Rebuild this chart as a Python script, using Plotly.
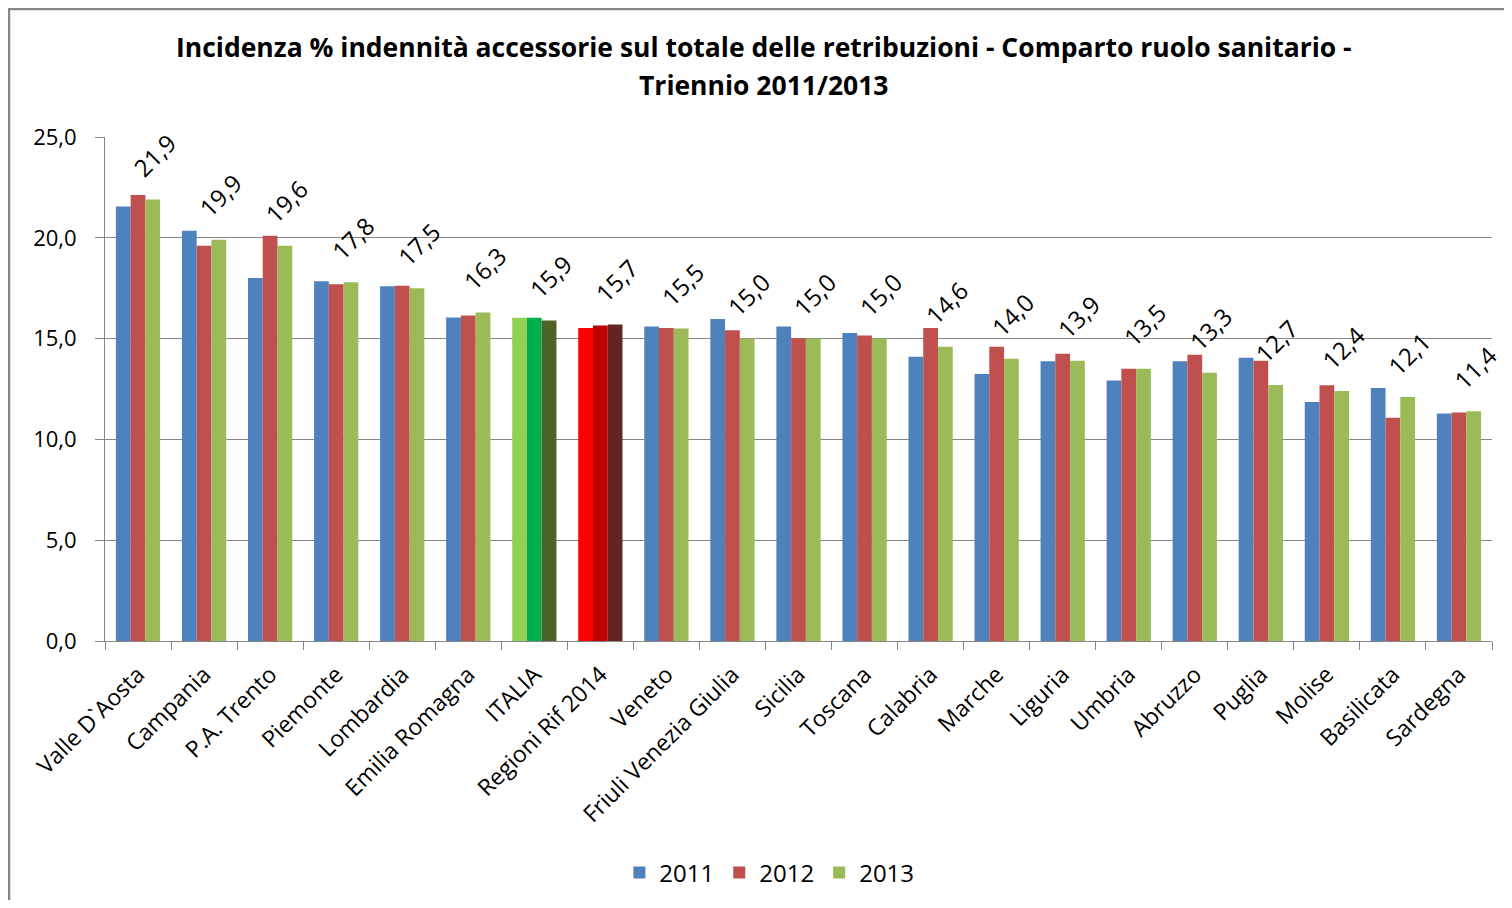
import plotly.graph_objects as go

categories = ["Valle D`Aosta", "Campania", "P.A. Trento", "Piemonte", "Lombardia",
              "Emilia Romagna", "ITALIA", "Regioni Rif 2014", "Veneto",
              "Friuli Venezia Giulia", "Sicilia", "Toscana", "Calabria", "Marche",
              "Liguria", "Umbria", "Abruzzo", "Puglia", "Molise", "Basilicata", "Sardegna"]

v2011 = [21.55, 20.35, 18.0, 17.85, 17.6, 16.05, 16.03, 15.53, 15.6, 15.97, 15.6, 15.28,
         14.1, 13.25, 13.88, 12.92, 13.88, 14.05, 11.85, 12.55, 11.28]
v2012 = [22.12, 19.6, 20.1, 17.7, 17.62, 16.15, 16.03, 15.65, 15.53, 15.42, 15.02, 15.15,
         15.53, 14.6, 14.25, 13.5, 14.2, 13.9, 12.68, 11.08, 11.33]
v2013 = [21.9, 19.9, 19.6, 17.8, 17.5, 16.3, 15.9, 15.7, 15.5, 15.0, 15.0, 15.0,
         14.6, 14.0, 13.9, 13.5, 13.3, 12.7, 12.4, 12.1, 11.4]

series_names = ["2011", "2012", "2013"]
base_colors = ["#4F81BD", "#C0504D", "#9BBB59"]
italia_colors = ["#92D050", "#00B050", "#4F6228"]
rif_colors = ["#FF0000", "#C00000", "#632523"]
y_ticks = [0, 5, 10, 15, 20, 25]
title_lines = ["Incidenza % indennità accessorie sul totale delle retribuzioni - Comparto ruolo sanitario -",
               "Triennio 2011/2013"]

FONT = "Open Sans"

def fmt(v):
    return f"{v:.1f}".replace(".", ",")

fig = go.Figure()
for i, (name, vals) in enumerate(zip(series_names, [v2011, v2012, v2013])):
    cols = []
    for c in categories:
        if c == "ITALIA":
            cols.append(italia_colors[i])
        elif c == "Regioni Rif 2014":
            cols.append(rif_colors[i])
        else:
            cols.append(base_colors[i])
    fig.add_trace(go.Bar(x=categories, y=vals, name=name,
                         marker=dict(color=cols, line=dict(width=0))))

# page body has an 8px margin: figure fits inside the viewport (1512-16 x 908-16),
# and all positions are shifted by 8px
PL, PR, PT, PB = 97, 1484, 129, 633
W, H = 1496, 892

annotations = []
for c, v in zip(categories, v2013):
    annotations.append(dict(x=c, y=v, xref="x", yref="y", text=fmt(v),
                            showarrow=False, textangle=-45, xshift=16, yshift=44,
                            font=dict(family=FONT, size=24, color="#000000")))

for line, ypix in zip(title_lines, [47 - 8, 85 - 8]):
    annotations.append(dict(x=(764 - 8 - PL) / (PR - PL), y=(PB - ypix) / (PB - PT),
                            xref="paper", yref="paper", xanchor="center", yanchor="middle",
                            text=f"<b>{line}</b>", showarrow=False,
                            font=dict(family=FONT, size=26.5, color="#000000")))

fig.update_layout(
    width=W, height=H, autosize=False,
    margin=dict(l=PL, r=W - PR, t=PT, b=H - PB, autoexpand=False),
    paper_bgcolor="white", plot_bgcolor="white",
    barmode="group", bargap=0.33, bargroupgap=0,
    font=dict(family=FONT, size=21, color="#000000"),
    legend=dict(orientation="h", x=0.479, xanchor="center",
                y=-(873 - 8 - PB) / (PB - PT), yanchor="middle",
                font=dict(family=FONT, size=24), itemwidth=30, traceorder="normal"),
    annotations=annotations,
    shapes=[dict(type="rect", xref="paper", yref="paper",
                 x0=(1 - PL) / (PR - PL), x1=1.2, y0=-1.0, y1=(PB - 1) / (PB - PT),
                 line=dict(color="#868686", width=2.5), fillcolor="rgba(0,0,0,0)",
                 layer="above")],
)

fig.update_yaxes(range=[0, 25], tickvals=y_ticks,
                 ticktext=[fmt(t) for t in y_ticks],
                 showgrid=True, gridcolor="#868686", gridwidth=1,
                 showline=True, linecolor="#868686", linewidth=1,
                 ticks="outside", ticklen=9, tickcolor="#868686", ticklabelstandoff=14,
                 tickfont=dict(family=FONT, size=22), zeroline=False, automargin=False)
fig.update_xaxes(range=[-0.5, len(categories) - 0.5], tickangle=-45,
                 showline=True, linecolor="#868686", linewidth=1,
                 ticks="outside", ticklen=8, tickcolor="#868686", tickson="boundaries",
                 ticklabelstandoff=10, automargin=False,
                 tickfont=dict(family=FONT, size=23))

fig.write_html("out.html")
